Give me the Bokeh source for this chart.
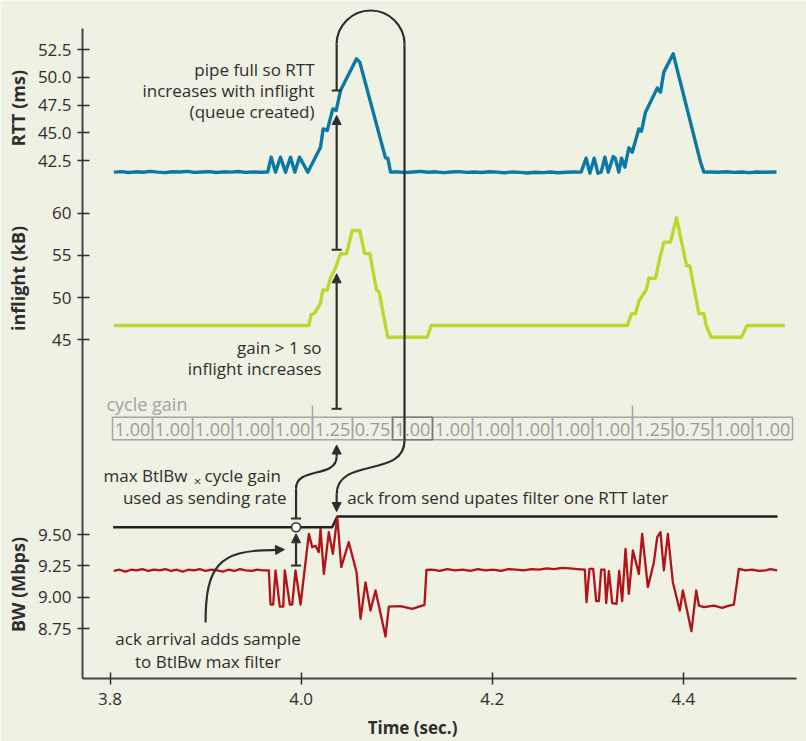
import math
from bokeh.plotting import figure
from bokeh.models import Range1d, FixedTicker, Arrow, NormalHead, TeeHead, PrintfTickFormatter
from bokeh.core.properties import value
from bokeh.embed import file_html
from bokeh.resources import INLINE

# ---------------- data ----------------
rtt_t = [3.804, 3.812, 3.819, 3.827, 3.835, 3.842, 3.850, 3.858, 3.865, 3.873, 3.881, 3.888,
         3.896, 3.904, 3.911, 3.919, 3.927, 3.934, 3.942, 3.950, 3.957, 3.965,
         3.9687, 3.9732, 3.9784, 3.9837, 3.9889, 3.9934, 3.9983, 4.0070, 4.0203, 4.0231,
         4.0273, 4.0332, 4.0367, 4.0412, 4.0580, 4.0614, 4.0883, 4.0907, 4.0936,
         4.101, 4.109, 4.117, 4.125, 4.133, 4.141, 4.149, 4.157, 4.165, 4.173, 4.181, 4.189,
         4.197, 4.205, 4.213, 4.221, 4.229, 4.237, 4.245, 4.253, 4.261, 4.269, 4.277, 4.285, 4.293,
         4.2983, 4.3022, 4.3067, 4.3106, 4.3140, 4.3179, 4.3214, 4.3266, 4.3287, 4.3325, 4.3353,
         4.3388, 4.3430, 4.3465, 4.3535, 4.3562, 4.3604, 4.3727, 4.3761, 4.3796, 4.3894, 4.4180,
         4.4215, 4.429, 4.437, 4.445, 4.453, 4.461, 4.469, 4.477, 4.485, 4.4975]
rtt_ms = [41.45, 41.50, 41.42, 41.48, 41.44, 41.52, 41.45, 41.41, 41.49, 41.46, 41.52, 41.43,
          41.47, 41.50, 41.42, 41.48, 41.45, 41.51, 41.43, 41.47, 41.44, 41.46,
          42.80, 41.45, 42.80, 41.45, 42.80, 41.45, 42.80, 41.45, 43.70, 45.35,
          45.20, 47.15, 47.00, 48.80, 51.66, 51.36, 42.74, 42.70, 41.45,
          41.48, 41.42, 41.47, 41.52, 41.44, 41.48, 41.41, 41.46, 41.50, 41.43, 41.47, 41.42,
          41.49, 41.45, 41.40, 41.47, 41.43, 41.38, 41.44, 41.41, 41.46, 41.40, 41.44, 41.47, 41.45,
          42.71, 41.36, 42.71, 41.36, 41.45, 42.80, 41.45, 42.86, 42.71, 41.45, 42.71,
          41.90, 43.64, 43.25, 45.35, 45.14, 46.85, 49.02, 48.66, 50.46, 52.11, 42.35,
          41.45, 41.47, 41.44, 41.49, 41.43, 41.46, 41.41, 41.47, 41.44, 41.46]

inflight_t = [3.8040, 4.0081, 4.0106, 4.0140, 4.0203, 4.0227, 4.0273, 4.0308, 4.0360, 4.0412,
              4.0475, 4.0535, 4.0614, 4.0664, 4.0719, 4.0789, 4.0817, 4.0907, 4.1320, 4.1362,
              4.3413, 4.3458, 4.3500, 4.3534, 4.3615, 4.3639, 4.3709, 4.3761, 4.3796, 4.3866,
              4.3929, 4.4034, 4.4068, 4.4162, 4.4215, 4.4243, 4.4292, 4.4606, 4.4669, 4.5062]
inflight_kb = [46.7, 46.7, 48.0, 48.15, 49.35, 50.9, 50.9, 52.35, 53.5, 55.2,
               55.2, 57.95, 57.95, 55.25, 55.2, 50.9, 50.65, 45.3, 45.3, 46.7,
               46.7, 48.08, 48.1, 49.57, 51.0, 52.3, 52.3, 55.0, 56.57, 56.57,
               59.45, 53.8, 53.75, 48.15, 48.1, 46.57, 45.3, 45.3, 46.7, 46.7]

bw_t = [3.804, 3.810, 3.816, 3.822, 3.828, 3.834, 3.840, 3.846, 3.852, 3.858, 3.864, 3.870,
        3.876, 3.882, 3.888, 3.894, 3.900, 3.906, 3.912, 3.918, 3.924, 3.930, 3.936, 3.942,
        3.948, 3.954, 3.960, 3.9662,
        3.9680, 3.9708, 3.9732, 3.9777, 3.9813, 3.9829, 3.9882, 3.9907, 3.9941, 3.9994, 4.0036,
        4.0081, 4.0116, 4.0151, 4.0185, 4.0203, 4.0238, 4.0290, 4.0332, 4.0378, 4.0420, 4.0499,
        4.0580, 4.0622, 4.0674, 4.0726, 4.0779, 4.0883, 4.0918, 4.1040, 4.1163, 4.1291, 4.1312,
        4.137, 4.145, 4.153, 4.161, 4.169, 4.177, 4.185, 4.193, 4.201, 4.209, 4.217, 4.225,
        4.233, 4.241, 4.249, 4.257, 4.265, 4.273, 4.281, 4.289, 4.2969,
        4.2987, 4.3018, 4.3057, 4.3088, 4.3116, 4.3140, 4.3175, 4.3193, 4.3221, 4.3256, 4.3301,
        4.3329, 4.3360, 4.3395, 4.3430, 4.3472, 4.3535, 4.3569, 4.3629, 4.3692, 4.3727, 4.3761,
        4.3796, 4.3838, 4.3890, 4.3963, 4.3995, 4.4085, 4.4135, 4.4163, 4.4215, 4.4320, 4.4407,
        4.4477, 4.4529, 4.4581, 4.4651, 4.472, 4.479, 4.486, 4.491, 4.4982]
bw_mbps = [9.21, 9.22, 9.205, 9.22, 9.215, 9.225, 9.21, 9.22, 9.215, 9.225, 9.21, 9.22,
           9.205, 9.22, 9.215, 9.225, 9.21, 9.22, 9.215, 9.205, 9.22, 9.21, 9.225, 9.215,
           9.21, 9.22, 9.215, 9.214,
           8.943, 8.943, 9.214, 8.927, 8.927, 9.214, 8.943, 8.943, 9.214, 8.943, 9.214,
           9.505, 9.40, 9.41, 9.36, 9.545, 9.187, 9.518, 9.346, 9.643, 9.24, 9.439,
           9.20, 8.83, 9.12, 8.895, 9.055, 8.689, 8.927, 8.93, 8.909, 8.94, 9.219,
           9.22, 9.21, 9.225, 9.215, 9.22, 9.21, 9.225, 9.215, 9.22, 9.21, 9.225, 9.22,
           9.215, 9.225, 9.22, 9.23, 9.225, 9.235, 9.23, 9.225, 9.22,
           8.962, 9.227, 9.227, 8.970, 8.970, 9.22, 9.22, 8.954, 9.208, 8.954, 8.948,
           9.21, 8.970, 9.386, 9.028, 9.373, 9.187, 9.505, 9.081, 9.280, 9.479, 9.519,
           9.214, 9.505, 9.121, 8.895, 9.055, 8.731, 9.055, 8.935, 8.922, 8.935, 8.917,
           8.935, 8.943, 9.227, 9.214, 9.22, 9.21, 9.215, 9.225, 9.214]

btlbw_max_t = [3.8033, 4.0325, 4.0378, 4.4986]
btlbw_max_mbps = [9.558, 9.558, 9.643, 9.643]

cycle_start = [3.8026, 3.8445, 3.8864, 3.9282, 3.9701, 4.0119, 4.0538, 4.0957, 4.1375,
               4.1794, 4.2212, 4.2631, 4.3050, 4.3468, 4.3887, 4.4305, 4.4724]
cycle_end = [3.8445, 3.8864, 3.9282, 3.9701, 4.0119, 4.0538, 4.0957, 4.1375, 4.1794,
             4.2212, 4.2631, 4.3050, 4.3468, 4.3887, 4.4305, 4.4724, 4.5143]
cycle_gain = ["1.00", "1.00", "1.00", "1.00", "1.00", "1.25", "0.75", "1.00", "1.00",
              "1.00", "1.00", "1.00", "1.00", "1.25", "0.75", "1.00", "1.00"]

x_ticks = [3.8, 4.0, 4.2, 4.4]
rtt_ticks = [42.5, 45.0, 47.5, 50.0, 52.5]
rtt_tick_labels = ["42.5", "45.0", "47.5", "50.0", "52.5"]
inflight_ticks = [45, 50, 55, 60]
inflight_tick_labels = ["45", "50", "55", "60"]
bw_ticks = [8.75, 9.00, 9.25, 9.50]
bw_tick_labels = ["8.75", "9.00", "9.25", "9.50"]

# ---------------- style ----------------
BG = "#eff1e2"
INK = "#2e2e2e"
BLUE = "#0b79a6"
LIME = "#c0d62e"
RED = "#b01319"
GREY = "#a6a6a6"
FONT = "Open Sans"

W, H = 806, 741
# layout units: vertical pixel position, 0 = top of the picture, H = bottom
X_LEFT, X_RIGHT = 3.6854, 4.5289     # time at the left / right edge of the picture
AXIS_X = 3.77122                      # time where the vertical axis stands
AXIS_X_END = 4.5185
AXIS_Y = 678.0                        # layout position of the time axis
AXIS_Y_TOP = 28.0
# panel placement: (anchor value, its layout position, layout units per data unit)
RTT_P = (42.5, 160.0, 11.1)
INF_P = (45.0, 339.3, 8.44)
BW_P = (8.75, 628.3, 125.7)


def panel_range(pan):
    v0, y0, s = pan
    return Range1d(start=v0 - (H - y0) / s, end=v0 + y0 / s)


def panel_pos(v, pan):
    v0, y0, s = pan
    return round(y0 - (v - v0) * s, 3)


p = figure(width=W, height=H,
           x_range=Range1d(X_LEFT, X_RIGHT), y_range=Range1d(H, 0),
           output_backend="svg", toolbar_location=None, min_border=0,
           background_fill_color=BG, border_fill_color=BG, outline_line_color=None)
p.extra_y_ranges = {"rtt": panel_range(RTT_P), "inflight": panel_range(INF_P),
                    "bw": panel_range(BW_P)}
p.xgrid.visible = False
p.ygrid.visible = False

# left axis: one line, three scales
tick_pos, overrides = [], {}
for vals, labs, pan in ((rtt_ticks, rtt_tick_labels, RTT_P),
                        (inflight_ticks, inflight_tick_labels, INF_P),
                        (bw_ticks, bw_tick_labels, BW_P)):
    for v, lab in zip(vals, labs):
        pos = panel_pos(v, pan)
        tick_pos.append(pos)
        overrides[pos] = lab
ya = p.yaxis[0]
ya.fixed_location = AXIS_X
ya.ticker = FixedTicker(ticks=tick_pos)
ya.major_label_overrides = overrides
ya.bounds = (AXIS_Y_TOP, AXIS_Y)
ya.axis_line_color = "#444444"
ya.axis_line_width = 2
ya.major_tick_line_color = INK
ya.major_tick_line_width = 1.5
ya.major_tick_in = 7
ya.major_tick_out = 5
ya.minor_tick_line_color = None
ya.major_label_standoff = 6
ya.major_label_text_font = FONT
ya.major_label_text_font_size = "17px"
ya.major_label_text_color = INK

xa = p.xaxis[0]
xa.fixed_location = AXIS_Y
xa.ticker = FixedTicker(ticks=x_ticks)
xa.formatter = PrintfTickFormatter(format="%.1f")
xa.bounds = (AXIS_X, AXIS_X_END)
xa.axis_line_color = "#444444"
xa.axis_line_width = 2
xa.major_tick_line_color = INK
xa.major_tick_line_width = 1.5
xa.major_tick_in = 6
xa.major_tick_out = 6
xa.minor_tick_line_color = None
xa.major_label_standoff = 8
xa.major_label_text_font = FONT
xa.major_label_text_font_size = "17px"
xa.major_label_text_color = INK

# axis titles
p.text(x=[3.7037] * 3, y=[107.6, 278.0, 584.0], text=["RTT (ms)", "inflight (kB)", "BW (Mbps)"],
       angle=math.pi / 2, text_align="center", text_baseline="middle",
       text_font=value(FONT), text_font_size="18px", text_font_style="bold", text_color=INK)
p.text(x=[4.1166], y=[727.0], text=["Time (sec.)"], text_align="center",
       text_baseline="middle", text_font=value(FONT), text_font_size="17px",
       text_font_style="bold", text_color=INK)

# cycle gain table
p.quad(left=cycle_start, right=cycle_end, top=416.7, bottom=439.3, fill_color=None,
       line_color=GREY, line_width=1.5)
p.quad(left=[cycle_start[7]], right=[cycle_end[7]], top=416.7, bottom=439.3, fill_color=None,
       line_color="#7a7a7a", line_width=1.5)
centers = [(a + b) / 2 for a, b in zip(cycle_start, cycle_end)]
p.text(x=centers, y=[428.5] * len(centers), text=cycle_gain, text_font=value(FONT),
       text_font_size="18px", text_color="#9c9c9c", text_align="center", text_baseline="middle")
up_starts = [s for s, g in zip(cycle_start, cycle_gain) if g == "1.25"]
p.segment(x0=up_starts, y0=[405] * len(up_starts), x1=up_starts, y1=[416.7] * len(up_starts),
          line_color=GREY, line_width=1.5)
p.text(x=[3.7963], y=[403], text=["cycle gain"], text_font=value(FONT), text_font_size="18px",
       text_color="#a3a3a3", text_align="left", text_baseline="middle")

# series
p.line(btlbw_max_t, btlbw_max_mbps, y_range_name="bw", line_color="#222222", line_width=2.5)
p.line(rtt_t, rtt_ms, y_range_name="rtt", line_color=BLUE, line_width=3.4, line_join="round")
p.line(inflight_t, inflight_kb, y_range_name="inflight", line_color=LIME, line_width=3.4,
       line_join="round")
p.line(bw_t, bw_mbps, y_range_name="bw", line_color=RED, line_width=2.3, line_join="round")


# annotation texts
def note(lines, x, ys, align, size="17px"):
    p.text(x=[x] * len(lines), y=ys, text=lines, text_font=value(FONT), text_font_size=size,
           text_color=INK, text_align=align, text_baseline="middle")


note(["pipe full so RTT", "increases with inflight", "(queue created)"], 4.0140,
     [69.3, 90.0, 110.7], "right")
note(["gain > 1 so", "inflight increases"], 4.0213, [346.7, 368.3], "right")
note(["max BtlBw"], 3.8811, [475.0], "right")
note(["\u00d7"], 3.8916, [480.5], "center", size="13px")
note(["cycle gain"], 3.8989, [475.0], "left")
note(["used as sending rate"], 3.9848, [496.7], "right")
note(["ack from send upates filter one RTT later"], 4.0482, [496.7], "left")
note(["ack arrival adds sample", "to BtlBw max filter"], 3.9026, [638.3, 660.7], "center")

# arrows and connectors
LW = 2.2
XA = 4.0372   # column of the vertical arrows
XR = 4.1082   # right leg of the loop
XS = 3.9947   # sample / rate column


def head():
    return NormalHead(size=9, fill_color=INK, line_color=INK, line_width=1)


def tee():
    return TeeHead(size=10, line_color=INK, line_width=2)


# pipe full arrow
p.add_layout(Arrow(start=tee(), end=head(), x_start=XA, y_start=249.3, x_end=XA, y_end=115.0,
                   line_color=INK, line_width=LW))
# gain > 1 arrow
p.add_layout(Arrow(start=tee(), end=head(), x_start=XA, y_start=408.3, x_end=XA, y_end=273.3,
                   line_color=INK, line_width=LW))
# loop: one RTT later
p.add_layout(Arrow(start=tee(), end=None, x_start=XA, y_start=90.0, x_end=XA, y_end=44.0,
                   line_color=INK, line_width=LW))
p.arc(x=[(XA + XR) / 2], y=[44.0], radius=34, radius_units="screen", start_angle=0,
      end_angle=math.pi, direction="anticlock", line_color=INK, line_width=LW)
p.segment(x0=[XR], y0=[44.0], x1=[XR], y1=[440.0], line_color=INK, line_width=LW)
p.bezier(x0=[XR], y0=[440.0], x1=[XA], y1=[494.0], cx0=[XR], cy0=[478.0], cx1=[XA],
         cy1=[456.0], line_color=INK, line_width=LW)
p.add_layout(Arrow(start=None, end=head(), x_start=XA, y_start=494.0, x_end=XA, y_end=511.0,
                   line_color=INK, line_width=LW))
# sending rate S-curve
p.add_layout(Arrow(start=tee(), end=None, x_start=XS, y_start=518.0, x_end=XS, y_end=488.0,
                   line_color=INK, line_width=LW))
p.bezier(x0=[XS], y0=[488.0], x1=[XA], y1=[456.0], cx0=[XS], cy0=[466.0], cx1=[XA],
         cy1=[478.0], line_color=INK, line_width=LW)
p.add_layout(Arrow(start=None, end=head(), x_start=XA, y_start=456.0, x_end=XA, y_end=444.5,
                   line_color=INK, line_width=LW))
# sample raises max filter
p.add_layout(Arrow(start=tee(), end=head(), x_start=XS, y_start=9.253, x_end=XS, y_end=9.506,
                   y_range_name="bw", line_color=INK, line_width=LW))
p.scatter(x=[XS], y=[btlbw_max_mbps[0]], y_range_name="bw", size=9, marker="circle",
          fill_color="white", line_color=INK, line_width=1.6)
# ack arrival curved arrow
p.bezier(x0=[3.9000], y0=[622.0], x1=[3.9700], y1=[549.6], cx0=[3.9000], cy0=[566.0],
         cx1=[3.9136], cy1=[549.6], line_color=INK, line_width=LW)
p.add_layout(Arrow(start=None, end=head(), x_start=3.9690, y_start=549.6, x_end=3.9826,
                   y_end=549.0, line_color=INK, line_width=LW))

open("out.html", "w").write(file_html(p, INLINE))
